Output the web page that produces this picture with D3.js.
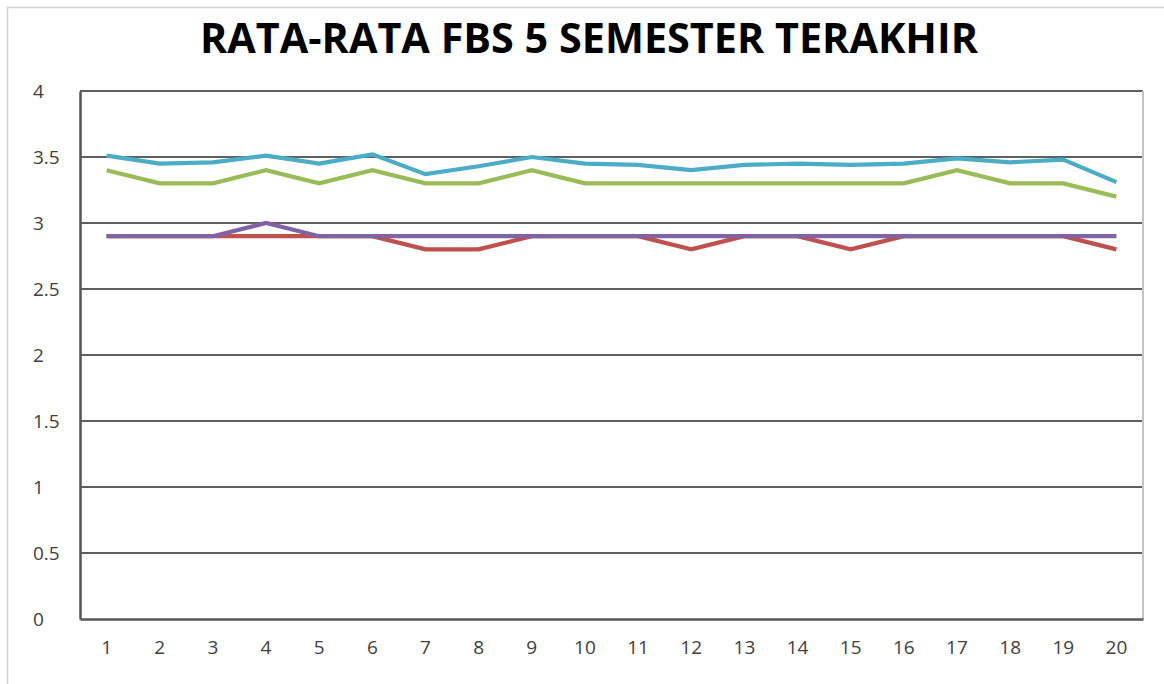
<!DOCTYPE html>
<html>
<head>
<meta charset="utf-8">
<script src="https://cdn.jsdelivr.net/npm/d3@7"></script>
<style>
  body { margin: 0; background: #ffffff; }
</style>
</head>
<body>
<script>

var titleText = "RATA-RATA FBS 5 SEMESTER TERAKHIR";

var categories = ["1","2","3","4","5","6","7","8","9","10",
                  "11","12","13","14","15","16","17","18","19","20"];

var yTicks = [0, 0.5, 1, 1.5, 2, 2.5, 3, 3.5, 4];

// drawn in this order, later ones on top
var seriesRed    = [2.9,2.9,2.9,2.9,2.9,2.9,2.8,2.8,2.9,2.9,2.9,2.8,2.9,2.9,2.8,2.9,2.9,2.9,2.9,2.8];
var seriesGreen  = [3.4,3.3,3.3,3.4,3.3,3.4,3.3,3.3,3.4,3.3,3.3,3.3,3.3,3.3,3.3,3.3,3.4,3.3,3.3,3.2];
var seriesPurple = [2.9,2.9,2.9,3.0,2.9,2.9,2.9,2.9,2.9,2.9,2.9,2.9,2.9,2.9,2.9,2.9,2.9,2.9,2.9,2.9];
var seriesAqua   = [3.51,3.45,3.46,3.51,3.45,3.52,3.37,3.43,3.5,3.45,3.44,3.4,3.44,3.45,3.44,3.45,3.49,3.46,3.48,3.31];

function draw_chart(elemn) {

    const width = 1164,
          height = 684;

    const plot = {
            left: 80,
            right: 1143,
            top: 91,
            bottom: 619
        };

    const lineColors = ["#C0504D", "#9BBB59", "#8064A2", "#4BACC6"];
    var allSeries = [seriesRed, seriesGreen, seriesPurple, seriesAqua];

    var svg = d3.select(elemn)
        .append("svg")
        .attr("width", width)
        .attr("height", height);

    // outer chart frame (cut off at right and bottom)
    svg.append("rect")
        .attr("x", 7.5)
        .attr("y", 7.5)
        .attr("width", 1200)
        .attr("height", 720)
        .attr("fill", "white")
        .attr("stroke", "#d0d0d0")
        .attr("stroke-width", 1.5);

    svg.append("text")
        .text(titleText)
        .attr("x", 589)
        .attr("y", 53)
        .attr("font-family", "'Open Sans', sans-serif")
        .attr("font-weight", "bold")
        .attr("font-size", "42px")
        .attr("fill", "#000000")
        .attr("text-anchor", "middle")
        .attr("textLength", 778)
        .attr("lengthAdjust", "spacingAndGlyphs");

    var x = d3.scaleBand()
        .domain(categories)
        .range([plot.left, plot.right]);

    var y = d3.scaleLinear()
        .domain([0, 4])
        .range([plot.bottom, plot.top]);

    // horizontal gridlines
    svg.append("g")
        .selectAll("line")
        .data(yTicks.filter(function (d) { return d > 0; }))
        .enter().append("line")
            .attr("x1", plot.left)
            .attr("x2", plot.right)
            .attr("y1", function (d) { return y(d); })
            .attr("y2", function (d) { return y(d); })
            .attr("stroke", "#606060")
            .attr("stroke-width", 2);

    // right border of plot area
    svg.append("line")
        .attr("x1", plot.right)
        .attr("x2", plot.right)
        .attr("y1", plot.top)
        .attr("y2", plot.bottom)
        .attr("stroke", "#c4c4c4")
        .attr("stroke-width", 2);

    // y axis
    var yAxis = svg.append("g")
        .attr("transform", "translate(" + plot.left + ",0)")
        .call(d3.axisLeft(y).tickValues(yTicks).tickSize(0).tickFormat(d3.format("")));
    yAxis.select(".domain")
        .attr("stroke", "#555555")
        .attr("stroke-width", 2.5);
    yAxis.selectAll("text")
        .attr("x", 33 - plot.left)
        .attr("text-anchor", "start")
        .attr("font-family", "'Open Sans', sans-serif")
        .attr("font-size", "19px")
        .attr("fill", "#404040");

    // x axis
    var xAxis = svg.append("g")
        .attr("transform", "translate(0," + plot.bottom + ")")
        .call(d3.axisBottom(x).tickSize(0).tickSizeOuter(0));
    xAxis.select(".domain")
        .attr("stroke", "#555555")
        .attr("stroke-width", 2.5);
    xAxis.selectAll("text")
        .attr("y", 22)
        .attr("font-family", "'Open Sans', sans-serif")
        .attr("font-size", "19px")
        .attr("fill", "#404040");

    var line = d3.line()
        .x(function (d, i) { return x(categories[i]) + x.bandwidth() / 2; })
        .y(function (d) { return y(d); });

    for (var k = 0; k < allSeries.length; ++k) {
        svg.append("path")
            .datum(allSeries[k])
            .attr("d", line)
            .attr("fill", "none")
            .attr("stroke", lineColors[k])
            .attr("stroke-width", 4.2)
            .attr("stroke-linejoin", "miter");
    }
}

draw_chart("body");
</script>
</body>
</html>
